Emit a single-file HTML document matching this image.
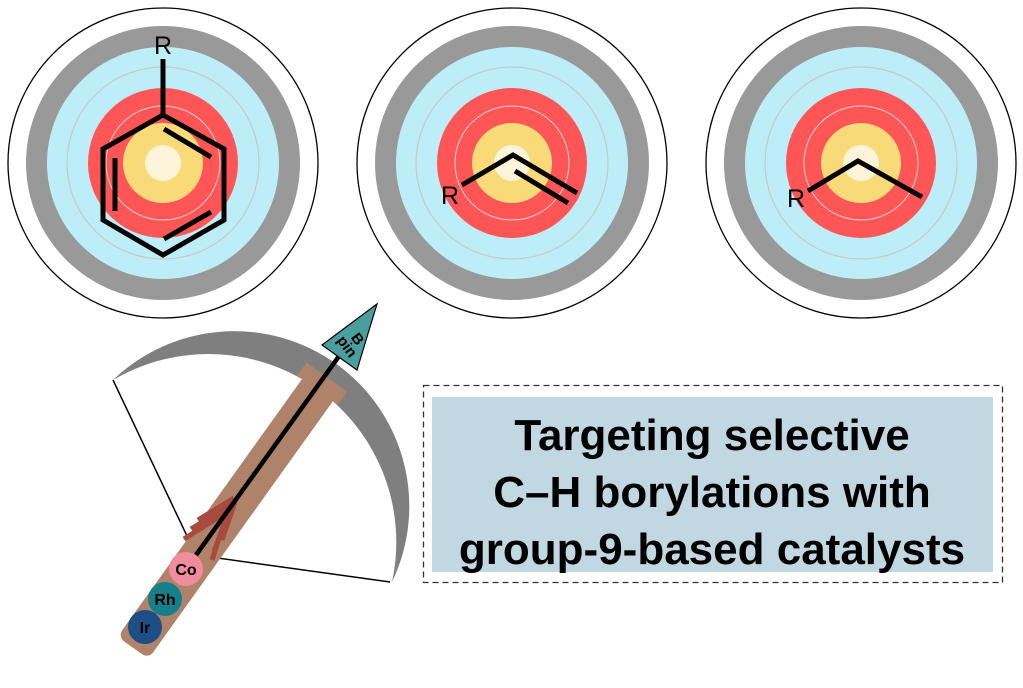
<!DOCTYPE html>
<html><head><meta charset="utf-8"><style>
html,body{margin:0;padding:0;background:#fff}
svg{display:block}
</style></head><body>
<svg width="1023" height="688" viewBox="0 0 1023 688" xmlns="http://www.w3.org/2000/svg">
<defs>
<g id="tgt">
<circle r="155" fill="#fff" stroke="#000" stroke-width="1.3"/>
<circle r="137" fill="#999"/>
<circle r="116" fill="#bdeef8"/>
<circle r="96" fill="none" stroke="#c8c8c8" stroke-width="1.2"/>
<circle r="75" fill="#fe5656"/>
<circle r="57" fill="none" stroke="#f5d0d0" stroke-width="1"/>
<circle r="40" fill="#f8db78"/>
<circle r="18" fill="#fdf4d9"/>
</g>
</defs>
<use href="#tgt" x="163" y="163"/>
<use href="#tgt" x="512" y="163"/>
<use href="#tgt" x="861" y="163"/>
<g stroke="#000" stroke-width="5" fill="none" stroke-linecap="butt">
<polygon points="163,115 224,149 224,220 163,255 103,220 103,149" stroke-linejoin="miter"/>
<line x1="163" y1="115" x2="163" y2="59"/>
<line x1="164" y1="129" x2="211" y2="157"/>
<line x1="115" y1="158" x2="115" y2="211"/>
<line x1="164" y1="239" x2="211" y2="212"/>
<polyline points="462,185 513,155 577,193"/>
<line x1="515" y1="171" x2="568" y2="203"/>
<polyline points="808,191 858,161 922,197"/>
</g>
<g font-family="Liberation Sans, sans-serif" font-size="25" text-anchor="middle">
<text x="163" y="54">R</text>
<text x="450" y="204">R</text>
<text x="796" y="207">R</text>
</g>
<!-- bow -->
<path d="M113,380 A175,175 0 0 1 392,582 A188,188 0 0 0 113,380 Z" fill="#7f7f7f"/>
<polyline points="113,380 196,555 390,582" fill="none" stroke="#000" stroke-width="1.5"/>
<!-- rod -->
<g transform="translate(140,638) rotate(-54.4)">
<rect x="-12" y="-19" width="332" height="38" rx="8" fill="#af836a"/>
<rect x="305" y="-25" width="16" height="50" fill="#af836a"/>
</g>
<g stroke="#a84a3e" stroke-width="5">
<line x1="234" y1="498" x2="198" y2="520"/>
<line x1="232" y1="504" x2="191" y2="529"/>
<line x1="230" y1="510" x2="184" y2="539"/>
<line x1="235" y1="502" x2="222" y2="540"/>
<line x1="231" y1="508" x2="214" y2="551"/>
<line x1="227" y1="514" x2="212" y2="560"/>
</g>
<line x1="196" y1="555" x2="342" y2="352" stroke="#000" stroke-width="4.5"/>
<polygon points="322,345 377,304 357,370" fill="#4a9e9e" stroke="#000" stroke-width="1.2"/>
<g font-family="Liberation Sans, sans-serif" font-weight="bold" font-size="15" text-anchor="middle" transform="translate(352,343) rotate(54)">
<text x="0" y="-2">B</text>
<text x="0" y="11">pin</text>
</g>
<circle cx="186" cy="569" r="17" fill="#f08c9c"/>
<circle cx="165" cy="599" r="17" fill="#16808a"/>
<circle cx="145" cy="627" r="17" fill="#1b4f86"/>
<g font-family="Liberation Sans, sans-serif" font-weight="bold" font-size="16" text-anchor="middle">
<text x="186" y="575">Co</text>
<text x="165" y="605">Rh</text>
<text x="145" y="633">Ir</text>
</g>
<!-- text box -->
<rect x="423.5" y="385.5" width="579" height="197" fill="none" stroke="#333" stroke-width="1.3" stroke-dasharray="6,4"/>
<rect x="432" y="397" width="561" height="175" fill="#c1d8e2"/>
<g font-family="Liberation Sans, sans-serif" font-weight="bold" font-size="44" text-anchor="middle" fill="#000">
<text x="712" y="450">Targeting selective</text>
<text x="712" y="507">C–H borylations with</text>
<text x="712" y="564">group-9-based catalysts</text>
</g>
</svg>
</body></html>
